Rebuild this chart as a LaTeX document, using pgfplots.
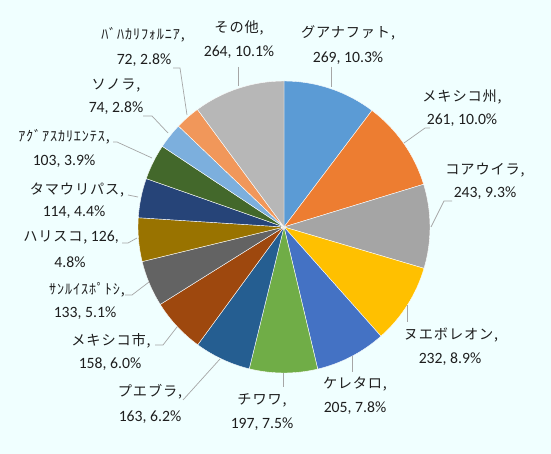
\documentclass[border=0pt]{standalone}
\usepackage{pgfplots}
\pgfplotsset{compat=1.18}
\usepackage{pgfplotstable}
\usepackage{fontspec}
\setmainfont{Carlito}
\newfontfamily\jp[LetterSpace=6]{Noto Sans CJK JP}

\definecolor{bg}{HTML}{F0FFFF}
\definecolor{txt}{HTML}{1E1E1E}
\definecolor{lead}{HTML}{A6A6A6}
\definecolor{c1}{HTML}{5B9BD5}
\definecolor{c2}{HTML}{ED7D31}
\definecolor{c3}{HTML}{A5A5A5}
\definecolor{c4}{HTML}{FFC000}
\definecolor{c5}{HTML}{4472C4}
\definecolor{c6}{HTML}{70AD47}
\definecolor{c7}{HTML}{255E91}
\definecolor{c8}{HTML}{9E480E}
\definecolor{c9}{HTML}{636363}
\definecolor{c10}{HTML}{997300}
\definecolor{c11}{HTML}{264478}
\definecolor{c12}{HTML}{43682B}
\definecolor{c13}{HTML}{7CAFDD}
\definecolor{c14}{HTML}{F1975A}
\definecolor{c15}{HTML}{B7B7B7}

% clockwise from 12 o'clock
\pgfplotstableread[col sep=comma]{
region,value,colour
Guanajuato,269,c1
EdoMexico,261,c2
Coahuila,243,c3
NuevoLeon,232,c4
Queretaro,205,c5
Chihuahua,197,c6
Puebla,163,c7
CiudadMexico,158,c8
SanLuisPotosi,133,c9
Jalisco,126,c10
Tamaulipas,114,c11
Aguascalientes,103,c12
Sonora,74,c13
BajaCalifornia,72,c14
Otros,264,c15
}\states

\newcommand\nf{\color{txt}\normalfont\fontsize{15.7bp}{18bp}\selectfont}
\newcommand\jf{\color{txt}\jp\fontsize{14.2bp}{18bp}\selectfont}

\begin{document}
\begin{tikzpicture}[leader/.style={draw=lead, line width=0.7bp}]
% sum and slice paths, built before the axis so the numbers are fixed
\pgfplotstablegetrowsof{\states}
\pgfmathtruncatemacro\lastrow{\pgfplotsretval-1}
\def\total{0}
\pgfplotsforeachungrouped \i in {0,...,\lastrow}{%
  \pgfplotstablegetelem{\i}{value}\of\states
  \pgfmathsetmacro\total{\total+\pgfplotsretval}%
}
\def\slices{}
\def\cum{0}
\pgfplotsforeachungrouped \i in {0,...,\lastrow}{%
  \pgfplotstablegetelem{\i}{value}\of\states \let\sv\pgfplotsretval
  \pgfplotstablegetelem{\i}{colour}\of\states \let\scol\pgfplotsretval
  \pgfmathsetmacro\angA{90-\cum/\total*360}%
  \pgfmathsetmacro\cum{\cum+\sv}%
  \pgfmathsetmacro\angB{90-\cum/\total*360}%
  \edef\slices{\unexpanded\expandafter{\slices}%
    \noexpand\fill[\scol,draw=white,line width=0.4bp] (axis cs:284,227) -- ++(\angA:146bp)
    arc[start angle=\angA,end angle=\angB,radius=146bp] -- cycle;}%
}
\begin{axis}[
    x=1bp, y=1bp,
    xmin=0, xmax=551, ymin=0, ymax=454,
    y dir=reverse,
    hide axis, clip=false,
]
\fill[bg] (axis cs:0,0) rectangle (axis cs:551,454);
\slices

\node at (axis cs:348,33) {\jf グアナファト,};
\node at (axis cs:348,58) {\nf 269, 10.3\%};
\draw[leader] (axis cs:331,67) -- (axis cs:331,87);

\node at (axis cs:462,97) {\jf メキシコ州,};
\node at (axis cs:462,120) {\nf 261, 10.0\%};
\draw[leader] (axis cs:430,128) -- (axis cs:425,128) -- (axis cs:404,143);

\node at (axis cs:485,170) {\jf コアウイラ,};
\node at (axis cs:485,193) {\nf 243, 9.3\%};
\draw[leader] (axis cs:452,201) -- (axis cs:444,201) -- (axis cs:431,227);

\node at (axis cs:451,335) {\jf ヌエボレオン,};
\node at (axis cs:450,359) {\nf 232, 8.9\%};
\draw[leader] (axis cs:407,305) -- (axis cs:407,322);

\node at (axis cs:355,384) {\jf ケレタロ,};
\node at (axis cs:355,408) {\nf 205, 7.8\%};
\draw[leader] (axis cs:352,356) -- (axis cs:352,372);

\node at (axis cs:262,400) {\jf チワワ,};
\node at (axis cs:262,424) {\nf 197, 7.5\%};
\draw[leader] (axis cs:283,373) -- (axis cs:283,387);

\node at (axis cs:150,392) {\jf プエブラ,};
\node at (axis cs:150,417) {\nf 163, 6.2\%};
\draw[leader] (axis cs:183,400) -- (axis cs:220,359);

\node at (axis cs:111,341) {\jf メキシコ市,};
\node at (axis cs:110,364) {\nf 158, 6.0\%};
\draw[leader] (axis cs:155,345) -- (axis cs:163,345) -- (axis cs:177,327);

\node at (axis cs:87,290) {\jf ｻﾝﾙｲｽﾎﾟﾄｼ,};
\node at (axis cs:85,313) {\nf 133, 5.1\%};
\draw[leader] (axis cs:125,295) -- (axis cs:132,295) -- (axis cs:149,282);

\node at (axis cs:71,237) {\jf ハリスコ,\nf\ 126,};
\node at (axis cs:70,262) {\nf 4.8\%};
\draw[leader] (axis cs:122,243) -- (axis cs:128,243) -- (axis cs:137,238);

\node at (axis cs:77,190) {\jf タマウリパス,};
\node at (axis cs:74,212) {\nf 114, 4.4\%};
\draw[leader] (axis cs:128,195) -- (axis cs:138,197);

\node at (axis cs:64,137) {\jf ｱｸﾞｱｽｶﾘｴﾝﾃｽ,};
\node at (axis cs:64,161) {\nf 103, 3.9\%};
\draw[leader] (axis cs:113,142) -- (axis cs:117,142) -- (axis cs:152,158);

\node at (axis cs:116,86) {\jf ソノラ,};
\node at (axis cs:116,108) {\nf 74, 2.8\%};
\draw[leader] (axis cs:143,116) -- (axis cs:152,116) -- (axis cs:168,133);

\node at (axis cs:143,35) {\jf ﾊﾞﾊｶﾘﾌｫﾙﾆｱ,};
\node at (axis cs:144,60) {\nf 72, 2.8\%};
\draw[leader] (axis cs:173,68) -- (axis cs:180,68) -- (axis cs:187,115);

\node at (axis cs:239,28) {\jf その他,};
\node at (axis cs:239,52) {\nf 264, 10.1\%};
\draw[leader] (axis cs:238,67) -- (axis cs:238,86);
\end{axis}
\end{tikzpicture}
\end{document}
